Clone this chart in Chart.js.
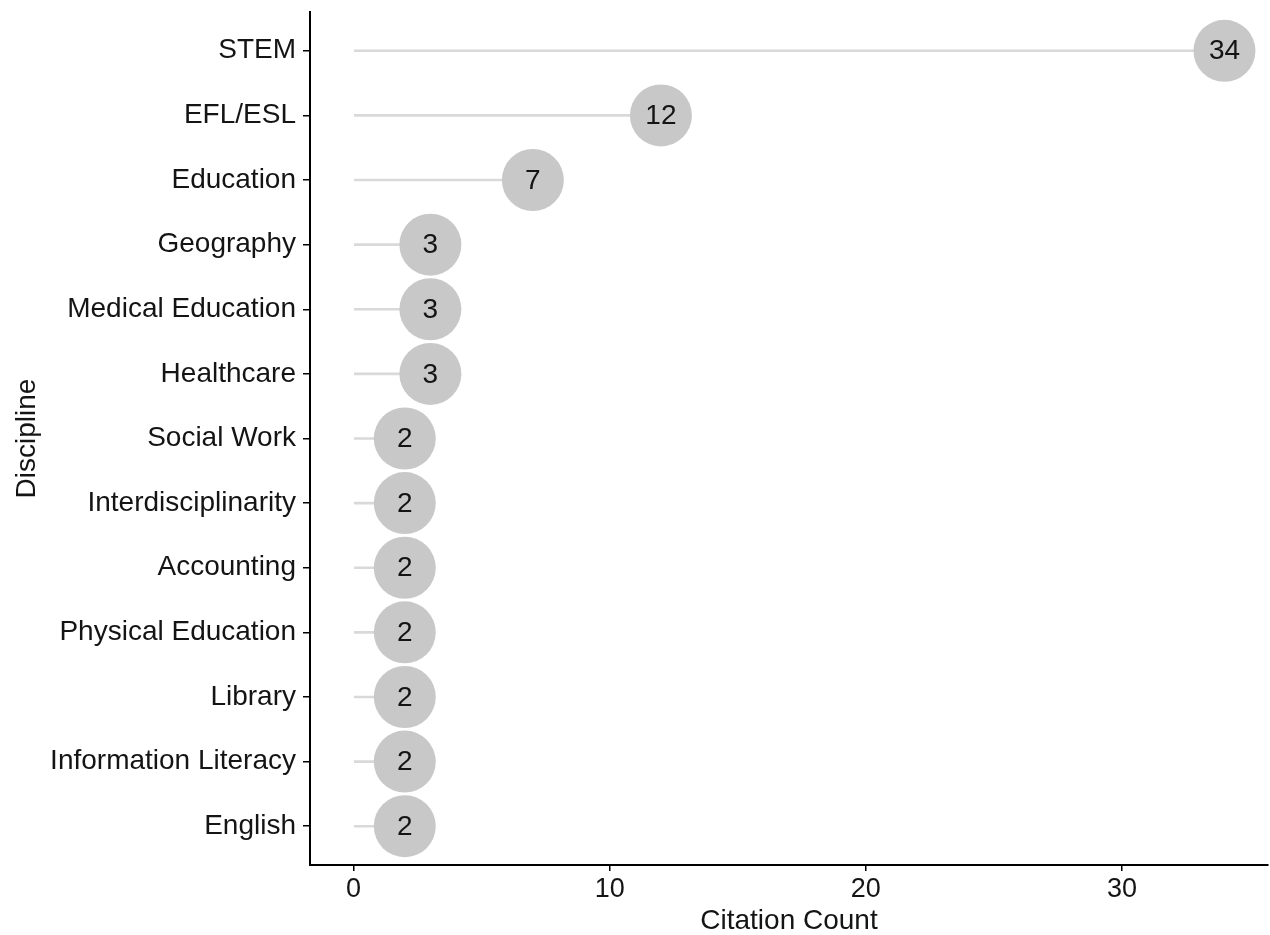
<!DOCTYPE html>
<html>
<head>
<meta charset="utf-8">
<script src="https://cdn.jsdelivr.net/npm/chart.js@4.4.0/dist/chart.umd.min.js"></script>
<style>
  html, body { margin: 0; padding: 0; background: #fff; }
  #wrap { width: 1270px; height: 935px; }
</style>
</head>
<body>
<div id="wrap"><canvas id="lollipop"></canvas></div>
<script>
// Data, top to bottom
const disciplines = [
    'STEM', 'EFL/ESL', 'Education', 'Geography', 'Medical Education',
    'Healthcare', 'Social Work', 'Interdisciplinarity', 'Accounting',
    'Physical Education', 'Library', 'Information Literacy', 'English'
];
const citationCounts = [34, 12, 7, 3, 3, 3, 2, 2, 2, 2, 2, 2, 2];
const xTicks = [0, 10, 20, 30];

const FONT = "'Liberation Sans', Arial, sans-serif";
const TEXT = '#141414';

const points = citationCounts.map((v, i) => ({ x: v, y: i }));

// Value labels inside the circles
const valueLabels = {
    id: 'valueLabels',
    afterDatasetsDraw(chart) {
        const meta = chart.getDatasetMeta(0);
        const ctx = chart.ctx;
        ctx.save();
        ctx.font = '28px ' + FONT;
        ctx.fillStyle = TEXT;
        ctx.textAlign = 'center';
        ctx.textBaseline = 'middle';
        meta.data.forEach((pt, i) => {
            ctx.fillText(String(citationCounts[i]), pt.x, pt.y + 1);
        });
        ctx.restore();
    }
};

new Chart(document.getElementById('lollipop'), {
    type: 'bar',
    data: {
        datasets: [
            {
                type: 'line',
                data: points,
                showLine: false,
                pointRadius: 31,
                pointHoverRadius: 31,
                pointBackgroundColor: '#c8c8c8',
                pointBorderWidth: 0,
                clip: false,
                order: 1
            },
            {
                type: 'bar',
                data: points,
                backgroundColor: '#d9d9d9',
                barThickness: 2,
                order: 2
            }
        ]
    },
    options: {
        indexAxis: 'y',
        responsive: true,
        maintainAspectRatio: false,
        animation: false,
        events: [],
        layout: { autoPadding: false, padding: { top: 12, right: 2, left: 0, bottom: 0 } },
        plugins: {
            legend: { display: false },
            tooltip: { enabled: false }
        },
        scales: {
            x: {
                type: 'linear',
                min: -1.7,
                max: 35.7,
                afterBuildTicks: scale => {
                    scale.ticks = xTicks.map(v => ({ value: v }));
                },
                afterFit: scale => {
                    scale.height = 70;
                    scale.paddingLeft = 0;
                    scale.paddingRight = 0;
                },
                border: { display: true, color: '#000', width: 2 },
                grid: { drawOnChartArea: false, drawTicks: true, tickLength: 6, color: '#000', lineWidth: 1.5 },
                ticks: { font: { family: FONT, size: 27 }, color: TEXT, padding: 2, maxRotation: 0 },
                title: {
                    display: true,
                    text: 'Citation Count',
                    font: { family: FONT, size: 28, lineHeight: 1 },
                    color: TEXT,
                    padding: { top: 0, bottom: 0 }
                }
            },
            y: {
                type: 'linear',
                reverse: true,
                offset: false,
                min: -0.6,
                max: 12.6,
                afterBuildTicks: scale => {
                    scale.ticks = disciplines.map((d, i) => ({ value: i }));
                },
                afterFit: scale => {
                    scale.width = 310;
                    scale.paddingTop = 0;
                    scale.paddingBottom = 0;
                },
                border: { display: true, color: '#000', width: 2 },
                grid: { offset: false, drawOnChartArea: false, drawTicks: true, tickLength: 7, color: '#000', lineWidth: 1.5 },
                ticks: {
                    font: { family: FONT, size: 28 },
                    color: TEXT,
                    padding: 7,
                    callback: v => disciplines[v]
                },
                title: {
                    display: true,
                    text: 'Discipline',
                    font: { family: FONT, size: 28 },
                    color: TEXT,
                    padding: { top: 10, bottom: 0 }
                }
            }
        }
    },
    plugins: [valueLabels]
});
</script>
</body>
</html>
